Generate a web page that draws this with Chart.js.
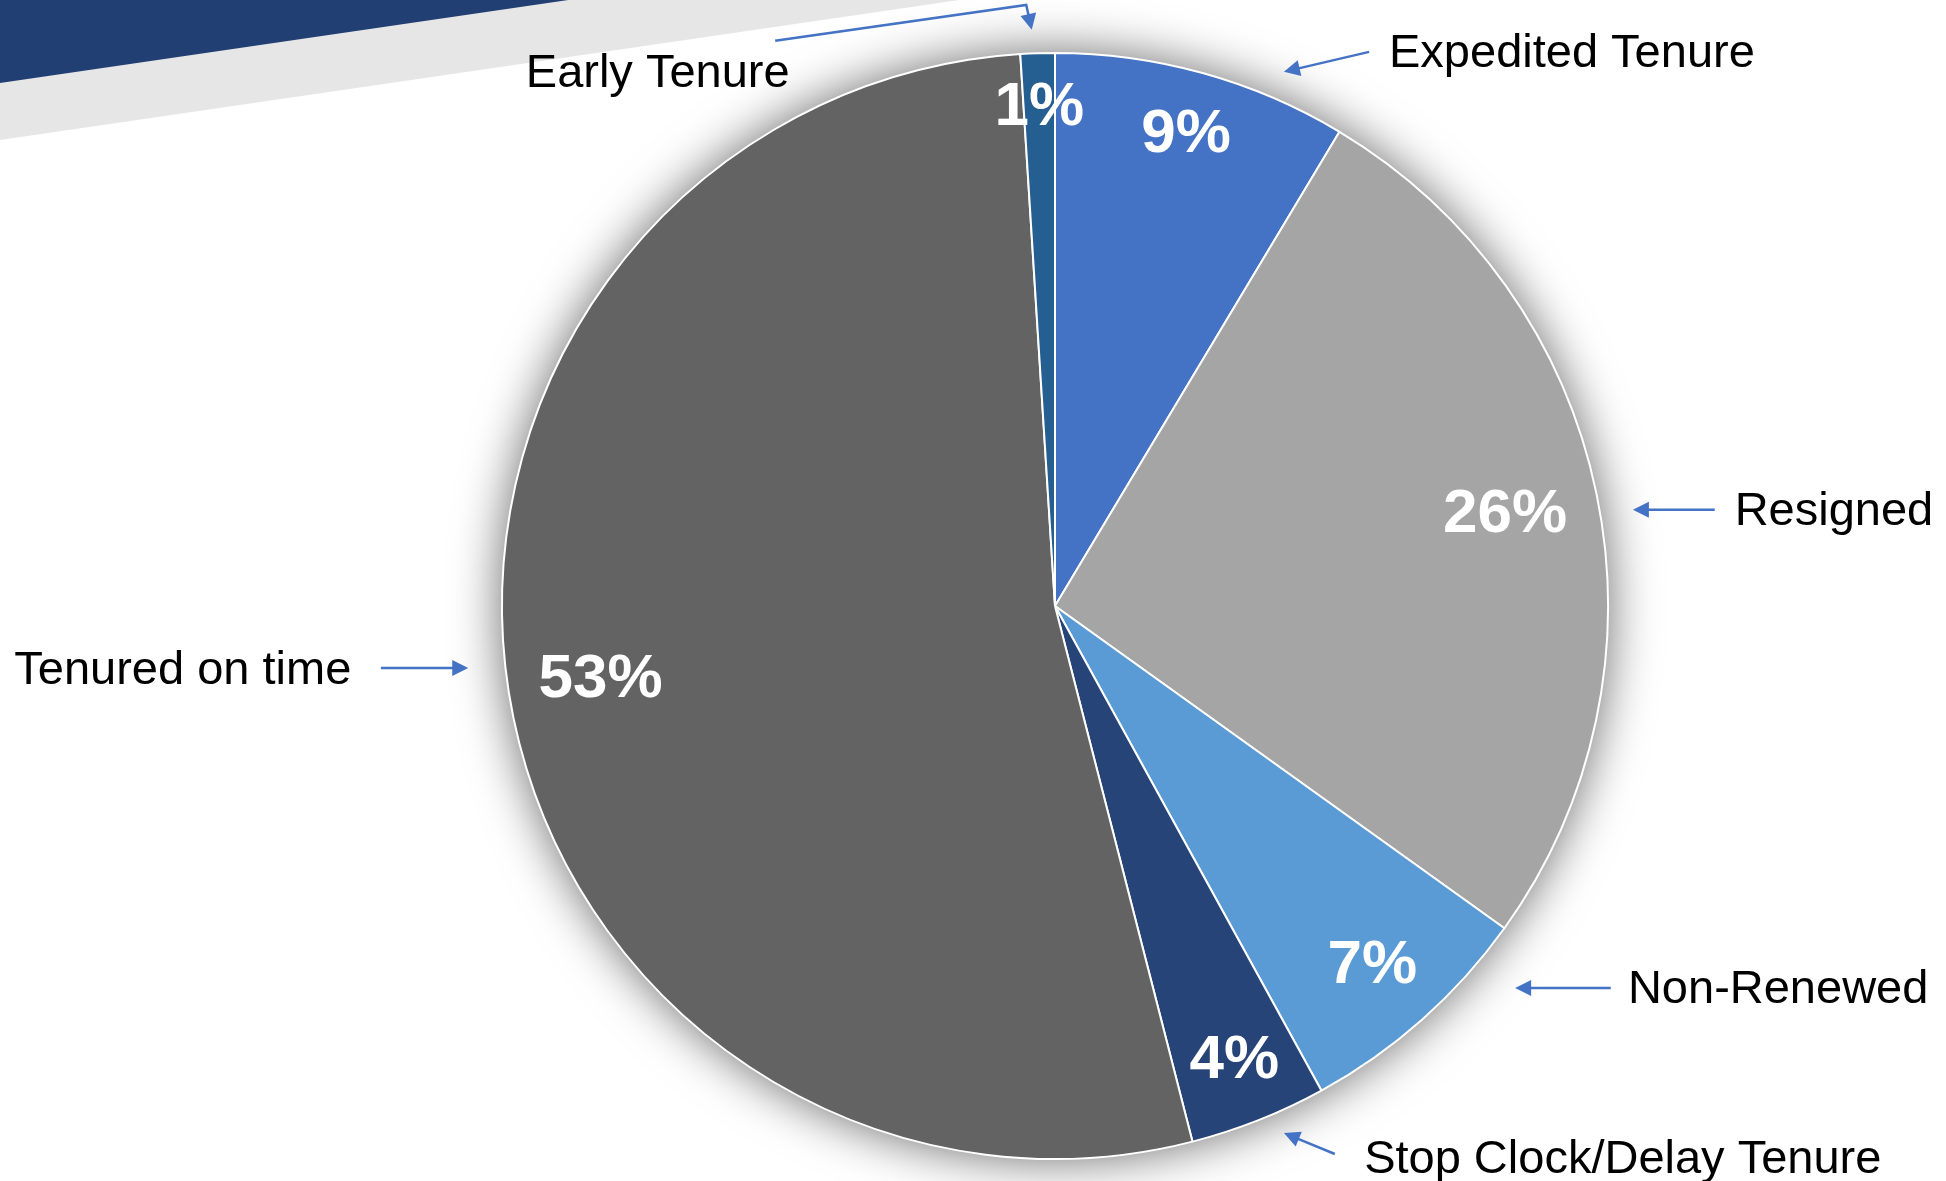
<!DOCTYPE html>
<html><head><meta charset="utf-8">
<script src="https://cdn.jsdelivr.net/npm/chart.js@4.4.1/dist/chart.umd.min.js"></script>
<style>html,body{margin:0;padding:0;background:#fff;overflow:hidden}canvas{display:block}</style>
</head><body>
<canvas id="c" width="1946" height="1181"></canvas>
<script>
const categories = ['Expedited Tenure','Resigned','Non-Renewed','Stop Clock/Delay Tenure','Tenured on time','Early Tenure'];
const shares = [8.6, 26.3, 7.1, 4.0, 53.0, 1.0];
const sliceColors = ['#4472C4','#A5A5A5','#5B9BD5','#264478','#636363','#255E91'];

// callout geometry, relative to the pie centre in units of the pie radius
const callouts = [
  {i:0, path:[[0.568,-1.002],[0.414,-0.966]], text:[0.604,-1.002], align:'left'},
  {i:1, path:[[1.193,-0.174],[1.045,-0.174]], text:[1.229,-0.174], align:'left'},
  {i:2, path:[[1.005,0.691],[0.832,0.691]], text:[1.036,0.691], align:'left'},
  {i:3, path:[[0.506,0.991],[0.414,0.953]], text:[0.559,0.998], align:'left'},
  {i:4, path:[[-1.219,0.112],[-1.061,0.112]], text:[-1.882,0.114], align:'left'},
  {i:5, path:[[-0.506,-1.022],[-0.052,-1.087],[-0.042,-1.042]], text:[-0.957,-0.966], align:'left'}
];

const backdrop = {
  id:'backdrop',
  beforeDraw(chart){
    const ctx = chart.ctx, W = chart.width, H = chart.height;
    ctx.save();
    ctx.fillStyle = '#E7E6E6';
    ctx.beginPath();
    ctx.moveTo(0, 0); ctx.lineTo(W*0.493, 0); ctx.lineTo(0, H*0.1185); ctx.closePath(); ctx.fill();
    ctx.fillStyle = '#223F74';
    ctx.beginPath();
    ctx.moveTo(0, 0); ctx.lineTo(W*0.292, 0); ctx.lineTo(0, H*0.0703); ctx.closePath(); ctx.fill();
    ctx.restore();
  },
  beforeDatasetsDraw(chart){
    const arc = chart.getDatasetMeta(0).data[0];
    if(!arc) return;
    const ctx = chart.ctx;
    ctx.save();
    ctx.shadowColor = 'rgba(0,0,0,0.6)';
    ctx.shadowBlur = 50;
    ctx.shadowOffsetX = 0; ctx.shadowOffsetY = 0;
    ctx.fillStyle = '#fff';
    ctx.beginPath();
    ctx.arc(arc.x, arc.y, arc.outerRadius, 0, Math.PI*2);
    ctx.fill();
    ctx.restore();
  }
};

const labelsPlugin = {
  id:'labels',
  afterDatasetsDraw(chart){
    const ctx = chart.ctx;
    const meta = chart.getDatasetMeta(0);
    const values = chart.data.datasets[0].data;
    ctx.save();
    ctx.font = 'bold 62px "Liberation Sans", Arial, sans-serif';
    ctx.fillStyle = '#fff';
    ctx.textAlign = 'center';
    ctx.textBaseline = 'middle';
    meta.data.forEach((a, k) => {
      const txt = Math.round(values[k]) + '%';
      const mid = (a.startAngle + a.endAngle) / 2;
      const w = ctx.measureText(txt).width, h = 46;
      const half = Math.abs(Math.cos(mid))*w/2 + Math.abs(Math.sin(mid))*h/2;
      const r = a.outerRadius - 28 - half;
      ctx.fillText(txt, a.x + Math.cos(mid)*r, a.y + Math.sin(mid)*r + 2);
    });
    const a0 = meta.data[0];
    const cx = a0.x, cy = a0.y, R = a0.outerRadius;
    const P = p => [cx + p[0]*R, cy + p[1]*R];
    ctx.strokeStyle = '#4472C4';
    ctx.fillStyle = '#4472C4';
    ctx.lineWidth = 2.5;
    callouts.forEach(c => {
      const pts = c.path.map(P);
      const [x2,y2] = pts[pts.length-1], [x1,y1] = pts[pts.length-2];
      const ang = Math.atan2(y2-y1, x2-x1), L = 16, Wd = 8;
      ctx.beginPath();
      ctx.moveTo(pts[0][0], pts[0][1]);
      for (let j=1;j<pts.length-1;j++) ctx.lineTo(pts[j][0], pts[j][1]);
      ctx.lineTo(x2 - (L-2)*Math.cos(ang), y2 - (L-2)*Math.sin(ang));
      ctx.stroke();
      ctx.beginPath();
      ctx.moveTo(x2, y2);
      ctx.lineTo(x2 - L*Math.cos(ang) + Wd*Math.sin(ang), y2 - L*Math.sin(ang) - Wd*Math.cos(ang));
      ctx.lineTo(x2 - L*Math.cos(ang) - Wd*Math.sin(ang), y2 - L*Math.sin(ang) + Wd*Math.cos(ang));
      ctx.closePath(); ctx.fill();
    });
    ctx.font = '47px "Liberation Sans", Arial, sans-serif';
    ctx.fillStyle = '#000';
    ctx.textBaseline = 'middle';
    callouts.forEach(c => {
      const [tx, ty] = P(c.text);
      ctx.textAlign = c.align;
      ctx.fillText(chart.data.labels[c.i], tx, ty + 2);
    });
    ctx.restore();
  }
};

new Chart(document.getElementById('c'), {
  type:'pie',
  data:{
    labels: categories,
    datasets:[{ data: shares, backgroundColor: sliceColors, borderColor:'#fff', borderWidth:2 }]
  },
  options:{
    responsive:false,
    animation:false,
    radius: 553,
    layout:{ padding:{ left:502, right:338, top:53, bottom:22 } },
    plugins:{ legend:{display:false}, tooltip:{enabled:false} }
  },
  plugins:[backdrop, labelsPlugin]
});
</script>
</body></html>
